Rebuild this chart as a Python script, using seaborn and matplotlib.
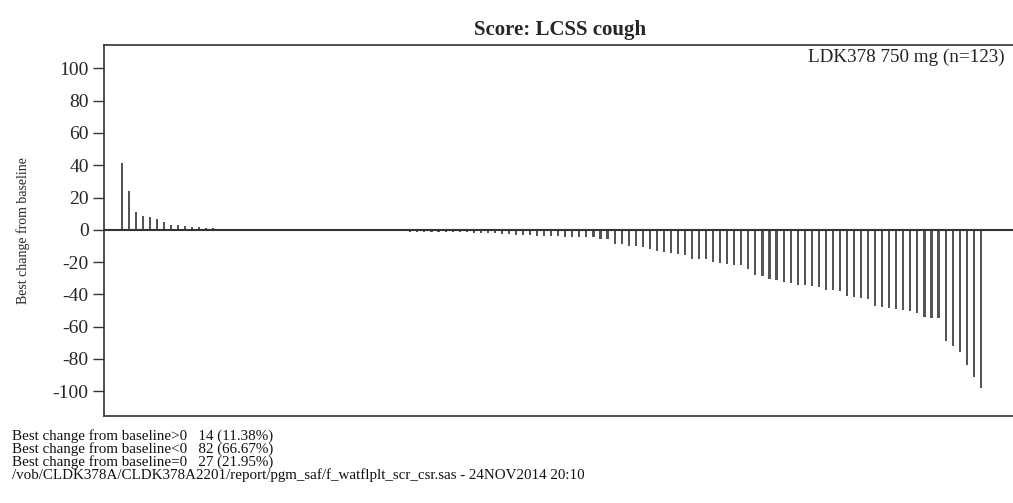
import numpy as np
import pandas as pd
import matplotlib
matplotlib.use("Agg")
import matplotlib.pyplot as plt
import seaborn as sns

title = "Score: LCSS cough"
arm_label = "LDK378 750 mg (n=123)"
ylabel = "Best change from baseline"
yticks = [100, 80, 60, 40, 20, 0, -20, -40, -60, -80, -100]

positive_vals = [41.5, 24, 11, 8.5, 8, 7, 5, 3, 3, 2.5, 1.8, 1.5, 1.3, 1.2]
zero_vals = [0.0] * 27
negative_vals = [
    -1.2, -1.2, -1.3, -1.3, -1.4, -1.4, -1.5, -1.5, -1.6, -1.7,
    -1.8, -2.0, -2.2, -2.4, -2.7, -3.0, -3.2, -3.5,
    -3.7, -3.7, -3.7, -4.0, -4.3, -4.3, -4.3, -4.3, -4.3, -5.4,
    -5.8, -8.7, -8.7, -9.9, -10.3, -10.8, -12.0, -12.8,
    -13.7, -14.5, -14.7, -15.7, -17.8, -17.8, -17.8, -19.9, -20.7, -21.0,
    -21.9, -21.9, -24.4, -28.1, -28.5, -30.6, -31.0, -32.3, -33.1, -34.2,
    -34.2, -34.8, -35.2, -37.3, -37.3, -38.1, -41.0, -41.6, -42.4, -43.1,
    -47.2, -47.8, -48.2, -49.3, -49.9, -50.3, -51.3, -53.8, -54.5, -54.9,
    -68.9, -72.0, -75.8, -83.9, -91.1, -98.0,
]
footnotes = [
    "Best change from baseline>0   14 (11.38%)",
    "Best change from baseline<0   82 (66.67%)",
    "Best change from baseline=0   27 (21.95%)",
    "/vob/CLDK378A/CLDK378A2201/report/pgm_saf/f_watflplt_scr_csr.sas - 24NOV2014 20:10",
]

values = positive_vals + zero_vals + negative_vals
df = pd.DataFrame({"patient": np.arange(len(values)), "change": values})

sns.set_style("white")
plt.rcParams["font.family"] = ["Liberation Serif", "DejaVu Serif"]

W, H = 1013, 503
fig = plt.figure(figsize=(W / 100, H / 100), dpi=100)
left, right, top, bottom = 104, 1016, 45, 415.5
ax = fig.add_axes([left / W, 1 - bottom / H, (right - left) / W, (bottom - top) / H])

sns.barplot(data=df, x="patient", y="change", color="#555555", width=0.3,
            saturation=1, ax=ax, linewidth=0)
ax.axhline(0, color="#333333", lw=1.5, zorder=3)

ax.set_xlim(-2.5, 127.0)
ax.set_ylim(-115, 114.5)
ax.set_xticks([])
ax.set_yticks(yticks)
ax.set_yticklabels([str(t) for t in yticks], fontsize=14)
ax.tick_params(axis="y", direction="out", length=8, width=1, color="#333333", pad=3, left=True)
ax.set_xlabel("")
ax.set_ylabel(ylabel, fontsize=10, labelpad=16)
for s in ax.spines.values():
    s.set_visible(True)
    s.set_color("#333333")
    s.set_linewidth(1.2)

ax.set_title(title, fontsize=15, fontweight="bold", pad=7)
fig.text(1005 / W, 1 - 57 / H, arm_label, ha="right", va="center", fontsize=13.8, color="#222222")

ys = [436, 449, 462, 475]
for t, y in zip(footnotes, ys):
    fig.text(12 / W, 1 - y / H, t, ha="left", va="center", fontsize=10.8, color="#111111")

fig.savefig("out.png", dpi=100)
